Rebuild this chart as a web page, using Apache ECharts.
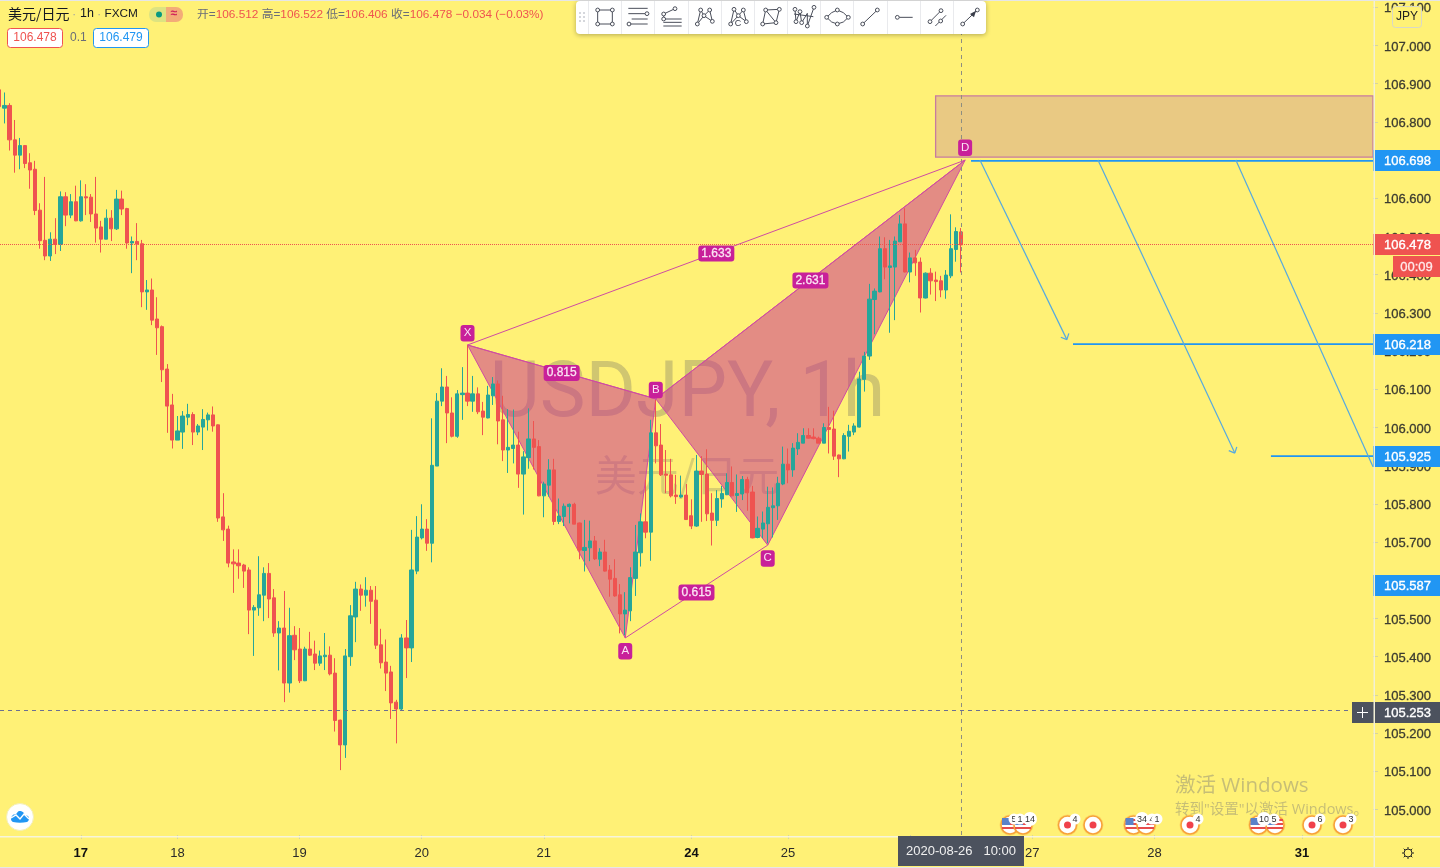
<!DOCTYPE html>
<html><head><meta charset="utf-8">
<style>html,body{margin:0;padding:0;background:#FFF176}#c{width:1440px;height:868px}</style>
<script src="https://cdn.jsdelivr.net/npm/echarts@6/dist/echarts.min.js"></script>
</head><body><div id="c"></div>
<script>
const opens=[106.884,106.836,106.843,106.753,106.713,106.738,106.693,106.676,106.569,106.490,106.449,106.493,106.479,106.604,106.556,106.591,106.541,106.604,106.603,106.559,106.525,106.493,106.548,106.520,106.598,106.573,106.483,106.487,106.481,106.355,106.360,106.284,106.264,106.153,106.059,105.967,105.988,106.027,106.034,105.988,106.001,106.020,106.033,
106.007,105.766,105.734,105.648,105.645,105.640,105.627,105.522,105.528,105.561,105.618,105.554,105.462,105.475,105.331,105.456,105.420,105.337,105.420,105.407,105.383,105.400,105.404,105.357,105.234,105.169,105.400,105.504,105.577,105.561,105.574,105.548,105.431,105.386,105.360,105.281,105.263,105.449,105.423,105.624,
105.711,105.734,105.697,105.899,106.069,106.106,106.038,105.977,106.086,106.090,106.069,106.088,106.043,106.025,106.083,106.114,106.020,105.941,105.945,105.954,105.878,105.921,105.970,105.950,105.821,105.849,105.889,105.754,105.767,105.793,105.799,105.750,105.678,105.685,105.703,105.655,105.674,105.627,105.605,105.562,105.512,105.520,105.605,105.672,105.753,105.726,
105.986,105.954,105.878,105.876,105.823,105.818,105.823,105.769,105.742,105.886,105.878,105.776,105.757,105.813,105.824,105.856,105.822,105.826,105.864,105.831,105.712,105.734,105.748,105.790,105.795,105.852,105.904,105.889,105.944,105.959,105.979,105.975,105.972,105.959,106.000,105.996,105.928,105.918,105.977,105.988,106.001,106.126,106.187,106.335,106.355,106.468,106.419,106.420,106.486,106.533,106.407,106.444,106.433,106.339,106.404,106.386,106.384,106.360,106.397,106.466,106.512];
const closes=[106.840,106.843,106.753,106.713,106.738,106.691,106.674,106.568,106.489,106.449,106.493,106.479,106.604,106.556,106.591,106.541,106.604,106.601,106.559,106.522,106.493,106.548,106.520,106.598,106.572,106.483,106.487,106.480,106.355,106.360,106.281,106.261,106.151,106.056,105.967,105.991,106.030,106.034,105.988,106.004,106.021,106.033,106.004,
105.763,105.732,105.645,105.643,105.638,105.624,105.522,105.529,105.562,105.618,105.551,105.462,105.475,105.331,105.455,105.418,105.337,105.420,105.404,105.383,105.402,105.404,105.355,105.233,105.169,105.402,105.507,105.577,105.561,105.574,105.545,105.430,105.384,105.357,105.279,105.263,105.449,105.423,105.627,105.713,
105.734,105.697,105.901,106.069,106.106,106.038,105.977,106.088,106.090,106.069,106.088,106.041,106.027,106.085,106.114,106.017,105.941,105.948,105.954,105.878,105.923,105.970,105.948,105.821,105.852,105.889,105.754,105.768,105.794,105.799,105.747,105.679,105.686,105.703,105.656,105.674,105.624,105.603,105.559,105.512,105.522,105.607,105.674,105.753,105.726,105.986,
105.952,105.876,105.875,105.821,105.819,105.823,105.759,105.742,105.886,105.877,105.774,105.757,105.814,105.827,105.856,105.821,105.827,105.864,105.829,105.711,105.736,105.750,105.791,105.795,105.854,105.904,105.889,105.946,105.961,105.979,105.972,105.971,105.959,106.000,105.995,105.925,105.918,105.979,105.990,106.004,106.127,106.187,106.336,106.357,106.468,106.420,106.423,106.488,106.533,106.407,106.444,106.431,106.339,106.404,106.384,106.382,106.360,106.399,106.468,106.513,106.478];
const lows=[106.838,106.796,106.725,106.667,106.676,106.679,106.625,106.556,106.468,106.438,106.436,106.454,106.462,106.527,106.548,106.540,106.539,106.556,106.538,106.484,106.458,106.493,106.488,106.517,106.556,106.468,106.404,106.438,106.315,106.308,106.268,106.190,106.119,105.986,105.945,105.967,105.944,106.006,105.954,105.980,105.941,105.992,105.989,
105.753,105.703,105.634,105.567,105.604,105.580,105.459,105.402,105.507,105.493,105.501,105.452,105.364,105.281,105.306,105.391,105.331,105.336,105.402,105.365,105.376,105.365,105.351,105.204,105.103,105.135,105.376,105.438,105.520,105.531,105.486,105.420,105.369,105.310,105.237,105.173,105.260,105.344,105.386,105.616,
105.707,105.677,105.647,105.899,106.056,105.959,105.974,105.973,106.020,106.056,106.041,106.035,105.980,106.024,106.059,105.956,105.912,105.881,105.906,105.842,105.772,105.892,105.890,105.820,105.765,105.819,105.745,105.747,105.742,105.749,105.747,105.655,105.623,105.650,105.653,105.637,105.623,105.557,105.557,105.461,105.456,105.493,105.559,105.636,105.710,105.651,
105.906,105.873,105.828,105.817,105.800,105.816,105.758,105.734,105.740,105.753,105.755,105.691,105.742,105.790,105.823,105.820,105.779,105.810,105.782,105.710,105.710,105.710,105.697,105.712,105.758,105.849,105.854,105.871,105.928,105.959,105.971,105.969,105.959,105.959,105.932,105.915,105.870,105.917,105.937,105.980,106.000,106.094,106.177,106.244,106.354,106.388,106.248,106.281,106.486,106.406,106.380,106.397,106.301,106.338,106.348,106.331,106.341,106.337,106.391,106.434,106.406];
const highs=[106.888,106.877,106.849,106.805,106.758,106.739,106.718,106.698,106.587,106.656,106.511,106.548,106.618,106.616,106.611,106.633,106.647,106.637,106.611,106.656,106.541,106.571,106.569,106.622,106.620,106.575,106.500,106.535,106.491,106.386,106.390,106.341,106.267,106.166,106.088,106.030,106.043,106.062,106.040,106.009,106.048,106.039,106.055,
106.008,105.828,105.743,105.681,105.681,105.643,105.634,105.535,105.663,105.634,105.645,105.577,105.493,105.572,105.528,105.480,105.475,105.426,105.465,105.442,105.416,105.462,105.427,105.396,105.235,105.420,105.535,105.596,105.589,105.608,105.585,105.585,105.473,105.445,105.376,105.287,105.459,105.496,105.732,105.768,
105.799,105.760,106.024,106.090,106.155,106.135,106.079,106.098,106.158,106.216,106.135,106.105,106.067,106.109,106.132,106.123,106.083,106.048,106.047,105.989,105.938,106.050,106.017,105.967,105.858,105.917,105.918,105.814,105.801,105.801,105.803,105.751,105.758,105.756,105.716,105.684,105.706,105.640,105.655,105.590,105.569,105.634,105.745,105.775,105.863,106.020,
106.072,106.009,105.941,105.918,105.876,105.874,105.852,105.812,105.928,105.925,105.943,105.828,105.836,105.847,105.880,105.898,105.877,105.873,105.871,105.847,105.767,105.780,105.845,105.843,105.871,105.950,105.945,105.959,105.985,105.998,105.998,105.998,105.976,106.011,106.054,106.044,105.929,105.985,106.007,106.011,106.146,106.198,106.376,106.364,106.500,106.498,106.491,106.500,106.556,106.574,106.458,106.465,106.445,106.406,106.417,106.408,106.397,106.412,106.558,106.524,106.522];

const xMin=0.118, xMax=269.96, yMin=104.9332, yMax=107.1191;
const priceTicks=[105.0,105.1,105.2,105.3,105.4,105.5,105.6,105.7,105.8,105.9,106.0,106.1,106.2,106.3,106.4,106.5,106.6,106.7,106.8,106.9,107.0,107.1];
const dayTickIdx=[16,35,59,83,107,136,155,179,203,227,256];
const dayTickLabels=['17','18','19','20','21','24','25','26','27','28','31'];
const boldDays=['17','24','31'];

const patternNames=['X','A','B','C','D'];
const patternIdx=[92,123,129,151,189.8];
const patternPrice=[106.216,105.449,106.075,105.692,106.700];
const patternOffsets=[-12,13,-9,13,-12.5];
const triangles=[[0,1,2],[2,3,4]];
const ratioLegs=[[0,2],[1,3],[2,4],[0,4]];
const ratioLabels=['0.815','0.615','2.631','1.633'];

const zoneIdx=184, zoneTop=106.868, zoneBottom=106.708;
const levelStartIdx=[190.96,211,249.9];
const levelPrice=[106.698,106.218,105.925];
const arrowStartIdx=[192.7,215.9,243];
const arrowEndIdx=[209.8,242.8,269.96];
const arrowStartPrice=[106.700,106.700,106.700];
const arrowEndPrice=[106.230,105.933,105.897];
const arrowHasHead=[true,true,false];

const tagPrices=[106.698,106.478,106.218,105.925,105.587,105.253];
const tagColors=['#2196F3','#EF5350','#2196F3','#2196F3','#2196F3','#4C525E'];
const lastPrice=106.478, crossPrice=105.256, crossIdx=189.1;

const BG='#FFF176',UP='#26A69A',DOWN='#EF5350',PINK='#C8209A',LINE='#CF4CA2',BLUE='#2196F3';
const candleData=opens.map((o,i)=>[i,o,closes[i],lows[i],highs[i]]);
const UI='"Liberation Sans",Arial,sans-serif', MIX='"Open Sans","Noto Sans CJK SC",sans-serif';

function seg(p,q,stroke,w){return {type:'line',shape:{x1:p[0],y1:p[1],x2:q[0],y2:q[1]},style:{stroke:stroke,lineWidth:w}};}

/* ---------- fixed page furniture (toolbar, header, events) ---------- */
const g=[];
function add(el,z){el.z=z==null?300:z;g.push(el);}
function txt(text,x,y,font,fill,align,z){add({type:'text',style:{text:text,x:x,y:y,font:font,fill:fill,textAlign:align||'left',textVerticalAlign:'middle'}},z);}
// watermarks
txt('USDJPY, 1h',687.5,397,'77px Roboto','rgba(80,80,95,0.27)','center',0);
txt('美元/日元',687,475,'42px "Noto Sans CJK SC"','rgba(80,80,95,0.22)','center',0);
// frame strips
add({type:'rect',shape:{x:0,y:0,width:1440,height:1},style:{fill:'#E6E6E6'}});
add({type:'rect',shape:{x:0,y:867,width:1440,height:1},style:{fill:'#E6E6E6'}});
add({type:'rect',shape:{x:0,y:836,width:1440,height:1.5},style:{fill:'#F7F5DC'}},295);
add({type:'rect',shape:{x:1373.5,y:0,width:1.5,height:868},style:{fill:'#F2F0D6'}},295);
// toolbar
add({type:'rect',shape:{x:576,y:1,width:410,height:33,r:4},style:{fill:'#fff',shadowBlur:5,shadowColor:'rgba(0,0,0,.3)',shadowOffsetY:1}});
[588.5,621.5,654.5,688.5,721.5,754.5,787.5,820.5,853.5,887.5,920.5,953.5].forEach(x=>add({type:'line',shape:{x1:x,y1:1,x2:x,y2:34},style:{stroke:'#E9EAED',lineWidth:1}}));
[[580,13],[584,13],[580,17],[584,17],[580,21],[584,21]].forEach(p=>add({type:'rect',shape:{x:p[0]-1,y:p[1]-1,width:2,height:2},style:{fill:'#D5D7DC'}}));
const Z=(a)=>a.map(p=>[570+p[0]/3,p[1]/3]);
const icons=[
 {l:[[[83,30],[127,30],[127,72],[83,72],[83,30]]],r:[[83,30],[127,30],[127,72],[83,72]]},
 {l:[[[175,25],[233,25]],[[175,41],[225,41]],[[185,57],[233,57]],[[180,72],[233,72]]],r:[[231,41],[177,72]]},
 {l:[[[281,57],[281,42],[315,26]],[[280,57],[335,57]],[[280,67],[335,67]],[[280,78],[335,78]]],r:[[281,42],[315,26],[281,57]]},
 {l:[[[382,72],[392,30],[402,47],[419,30],[427,64],[402,47],[382,72]]],r:[[382,72],[392,30],[402,47],[419,30],[427,64]]},
 {l:[[[482,72],[492,28],[505,47],[520,30],[529,65],[505,47],[482,72]]],r:[[482,72],[492,28],[505,47],[520,30],[529,65]]},
 {l:[[[578,72],[587,30],[628,28],[618,68],[578,72]],[[587,30],[618,68]]],r:[[578,72],[587,30],[628,28],[618,68]]},
 {l:[[[675,28],[678,65],[690,35],[695,68],[712,40],[712,78],[732,22]],[[672,42],[730,50]]],r:[[675,28],[678,65],[690,35],[695,68],[712,78],[732,22]]},
 {l:[[[770,52],[785,38],[802,30],[820,38],[835,52],[820,66],[802,72],[785,66],[770,52]]],r:[[770,52],[802,30],[835,52],[802,72]]},
 {l:[[[878,72],[922,30]]],r:[[878,72],[922,30]]},
 {l:[[[982,52],[1028,52]]],r:[[982,52]]},
 {l:[[[1080,65],[1113,32]],[[1096,78],[1128,46]]],r:[[1080,65],[1113,32],[1112,63]]},
 {l:[[[1178,72],[1222,30]]],r:[[1178,72],[1222,30]]}
];
icons.forEach(ic=>{
  ic.l.forEach(pl=>add({type:'polyline',shape:{points:Z(pl)},style:{stroke:'#4A4E5A',lineWidth:1,fill:null}}));
  Z(ic.r).forEach(p=>add({type:'circle',shape:{cx:p[0],cy:p[1],r:1.9},style:{fill:'#fff',stroke:'#4A4E5A',lineWidth:1}},301));
});
add({type:'polygon',shape:{points:Z([[1200,42],[1218,32],[1212,52]])},style:{fill:'#3A3E4A'}},301);
txt('C',570+504/3,71/3,'9px '+UI,'#3A3E4A','center',301);
// header
txt('美元/日元',8,14,'14px "Noto Sans CJK SC"','#131722');
txt('·',72,14,'13px '+UI,'#A9AAA0');
txt('1h',80,14,'12.5px '+UI,'#131722');
txt('·',97,14,'13px '+UI,'#A9AAA0');
txt('FXCM',104.5,14,'11.8px '+UI,'#131722');
add({type:'rect',shape:{x:149,y:7,width:17,height:15,r:[7,0,0,7]},style:{fill:'#DDE381'}});
add({type:'rect',shape:{x:166,y:7,width:17,height:15,r:[0,7,7,0]},style:{fill:'#F3AC78'}});
add({type:'circle',shape:{cx:159,cy:14.5,r:3},style:{fill:'#089981'}});
txt('≈',174,14,'bold 12px '+UI,'#D0205A','center');
const ohlcFont='"Liberation Sans","Noto Sans CJK SC"';
add({type:'text',style:{x:197,y:15,textVerticalAlign:'middle',text:'{a|开=}{b|106.512} {a|高=}{b|106.522} {a|低=}{b|106.406} {a|收=}{b|106.478} {b|−0.034 (−0.03%)}',fill:DOWN,rich:{a:{fontSize:11.8,fontFamily:ohlcFont,lineHeight:16,fill:'#6A6D78'},b:{fontSize:11.8,fontFamily:ohlcFont,lineHeight:16,fill:DOWN}}}},300);
add({type:'rect',shape:{x:7.5,y:28.5,width:55,height:19,r:3},style:{fill:'#fff',stroke:DOWN,lineWidth:1}});
txt('106.478',35,38,'12px '+UI,DOWN,'center',301);
txt('0.1',70,38,'12px '+UI,'#6A6D78');
add({type:'rect',shape:{x:93.5,y:28.5,width:55,height:19,r:3},style:{fill:'#fff',stroke:BLUE,lineWidth:1}});
txt('106.479',121,38,'12px '+UI,BLUE,'center',301);
// JPY badge
add({type:'rect',shape:{x:1392.5,y:6.5,width:29,height:21,r:3},style:{fill:BG,stroke:'#D8D8C8',lineWidth:1}});
txt('JPY',1407,17,'12px '+UI,'#222','center',301);
// logo + gear
add({type:'circle',shape:{cx:20,cy:817,r:13.5},style:{fill:'#fff',stroke:'#F4EFB8',lineWidth:1}});
add({type:'polygon',shape:{smooth:0.35,points:[[11,819],[13,815],[16,814],[19,811],[23,812],[25,815],[28,816],[29,819],[27,822],[13,822]]},style:{fill:'#2196F3'}},301);
add({type:'polyline',shape:{points:[[11,818],[16,815],[20,819],[24,814],[29,819]]},style:{stroke:'#fff',lineWidth:1.4,fill:null}},302);
add({type:'circle',shape:{cx:1408,cy:853,r:4},style:{fill:null,stroke:'#222',lineWidth:1}});
[[0,-6],[0,6],[-6,0],[6,0],[-4.3,-4.3],[4.3,4.3],[-4.3,4.3],[4.3,-4.3]].forEach(d=>add({type:'line',shape:{x1:1408+d[0]*.7,y1:853+d[1]*.7,x2:1408+d[0],y2:853+d[1]},style:{stroke:'#222',lineWidth:1}}));
// Windows text
txt('激活 Windows',1175,786,'20.5px '+MIX,'rgba(120,120,120,.42)','left',250);
txt('转到"设置"以激活 Windows。',1175,810,'14.5px '+MIX,'rgba(120,120,120,.42)','left',250);
// event icons
const evX=[1010,1023,1067.5,1093,1133.5,1146,1190,1258.6,1275,1312,1343];
const evFlag=[1,1,0,0,1,1,0,1,1,0,0];
evX.forEach((x,i)=>{
  const y=825;
  add({type:'circle',shape:{cx:x,cy:y,r:10.5},style:{fill:'rgba(247,162,59,.28)'}},240+i);
  add({type:'circle',shape:{cx:x,cy:y,r:9},style:{fill:'#fff',stroke:'#F7A23B',lineWidth:1.6}},240+i);
  if(evFlag[i]){
    add({type:'rect',shape:{x:x-8,y:y-6,width:16,height:2},style:{fill:'#E74C4C'}},240+i);
    add({type:'rect',shape:{x:x-8,y:y-2,width:16,height:2},style:{fill:'#E74C4C'}},240+i);
    add({type:'rect',shape:{x:x-8,y:y+2,width:16,height:2},style:{fill:'#E74C4C'}},240+i);
    add({type:'rect',shape:{x:x-8,y:y-7,width:8,height:7},style:{fill:'#5B82C9'}},240+i);
  } else add({type:'circle',shape:{cx:x,cy:y,r:3.5},style:{fill:'#F0414B'}},240+i);
});
const badgeX=[1014,1020,1030,1075,1142,1152,1157,1198,1264,1274,1320,1351];
const badgeT=['5','1','14','4','34','4','1','4','10','5','6','3'];
badgeX.forEach((x,i)=>{
  add({type:'circle',shape:{cx:x,cy:819,r:badgeT[i].length>1?7:5.5},style:{fill:'#fff'}},260+i);
  txt(badgeT[i],x,819.5,'9px '+UI,'#333','center',260+i);
});
// crosshair date tag and plus
add({type:'rect',shape:{x:898,y:836,width:126,height:30},style:{fill:'#4C525E'}},296);
txt('2020-08-26   10:00',961,851.5,'13px '+UI,'#F0F0F0','center',297);
add({type:'rect',shape:{x:1352,y:702,width:21.5,height:21},style:{fill:'#4C525E'}},290);
add({type:'rect',shape:{x:1357,y:712,width:11,height:1},style:{fill:'#fff'}},291);
add({type:'rect',shape:{x:1362,y:707,width:1,height:11},style:{fill:'#fff'}},291);
// countdown tag
add({type:'rect',shape:{x:1393,y:256,width:47,height:21},style:{fill:DOWN}},290);
add({type:'text',style:{text:'00:09',x:1416.5,y:267,font:'13px '+UI,fill:'#FFE9E9',stroke:'#FFE9E9',lineWidth:0.3,textAlign:'center',textVerticalAlign:'middle'}},291);

const option={
 animation:false,
 backgroundColor:BG,
 graphic:{elements:g},
 grid:{left:0,top:0,width:1373,height:835,containLabel:false},
 xAxis:{type:'value',min:xMin,max:xMax,splitLine:{show:false},
  axisLine:{show:false,onZero:false},
  axisTick:{customValues:dayTickIdx,length:4,lineStyle:{color:'#D8D49A'}},
  axisLabel:{customValues:dayTickIdx,margin:12,hideOverlap:false,color:'#2A2A2A',fontSize:13,fontFamily:'Liberation Sans',
   formatter:v=>{const s=dayTickLabels[dayTickIdx.indexOf(v)];return boldDays.includes(s)?'{b|'+s+'}':s;},
   rich:{b:{fontWeight:'bold',fontSize:13,color:'#111',fontFamily:'Liberation Sans'}}}},
 yAxis:{type:'value',position:'right',min:yMin,max:yMax,splitLine:{show:false},
  axisLine:{show:false,onZero:false},
  axisTick:{show:true,customValues:priceTicks,length:5,lineStyle:{color:'#D8D49A'}},
  axisLabel:{customValues:priceTicks,margin:11,verticalAlign:'bottom',lineHeight:13,padding:[0,0,-8,0],hideOverlap:false,color:'#3C3C30',textBorderColor:'#3C3C30',textBorderWidth:0.3,fontSize:13,fontFamily:'Liberation Sans',formatter:v=>v.toFixed(3)}},
 series:[
  {type:'custom',z:1,silent:true,coordinateSystem:'cartesian2d',clip:false,
   data:triangles.map((t,i)=>[patternIdx[t[0]],patternPrice[t[0]]]),
   renderItem:(p,api)=>{const t=triangles[p.dataIndex];const pts=t.map(k=>api.coord([patternIdx[k],patternPrice[k]]));
     return {type:'polygon',shape:{points:pts},style:{fill:'rgba(200,40,145,0.5)',stroke:LINE,lineWidth:1}};}},
  {type:'custom',z:1,silent:true,clip:false,
   data:[[zoneIdx,zoneTop]],
   renderItem:(p,api)=>{const a=api.coord([zoneIdx,zoneTop]),b=api.coord([xMax,zoneBottom]);
     return {type:'rect',shape:{x:a[0],y:a[1],width:b[0]-a[0],height:b[1]-a[1]},style:{fill:'#E9C983',stroke:'#C77BA0',lineWidth:1.3}};}},
  {type:'candlestick',z:2,silent:true,data:candleData,encode:{x:0,y:[1,2,3,4]},barWidth:3.7,
   itemStyle:{color:UP,color0:DOWN,borderColor:UP,borderColor0:DOWN,borderWidth:1},
   markLine:{silent:true,symbol:'none',animation:false,label:{show:false},z:3,
    data:[
     {yAxis:lastPrice,lineStyle:{color:DOWN,type:[1,1],width:1}},
     {yAxis:crossPrice,lineStyle:{color:'#6B6F92',type:[4,4],width:1}},
     {xAxis:crossIdx,lineStyle:{color:'#8E8E80',type:[4,4],width:1}}
    ]}},
  {type:'custom',z:4,silent:true,clip:true,
   data:levelPrice.map((v,i)=>[levelStartIdx[i],v]),
   renderItem:(p,api)=>{const i=p.dataIndex;const a=api.coord([levelStartIdx[i],levelPrice[i]]),b=api.coord([xMax,levelPrice[i]]);
     return seg(a,b,BLUE,1.8);}},
  {type:'custom',z:4,silent:true,clip:true,
   data:arrowStartIdx.map((v,i)=>[v,arrowStartPrice[i]]),
   renderItem:(p,api)=>{const i=p.dataIndex;const a=api.coord([arrowStartIdx[i],arrowStartPrice[i]]),b=api.coord([arrowEndIdx[i],arrowEndPrice[i]]);
     const kids=[seg(a,b,'#55A9E0',1.2)];
     if(arrowHasHead[i]){const ang=Math.atan2(b[1]-a[1],b[0]-a[0]);
       [-0.75,0.75].forEach(d=>kids.push(seg(b,[b[0]-6.5*Math.cos(ang+d),b[1]-6.5*Math.sin(ang+d)],'#55A9E0',1.2)));}
     return {type:'group',children:kids};}},
  {type:'custom',z:5,silent:true,clip:false,
   data:ratioLegs.map(l=>[patternIdx[l[0]],patternPrice[l[0]]]),
   renderItem:(p,api)=>{const l=ratioLegs[p.dataIndex];const a=api.coord([patternIdx[l[0]],patternPrice[l[0]]]),b=api.coord([patternIdx[l[1]],patternPrice[l[1]]]);
     const m=[(a[0]+b[0])/2,(a[1]+b[1])/2];
     return {type:'group',children:[
       seg(a,b,LINE,1),
       {type:'rect',z2:2,shape:{x:m[0]-18,y:m[1]-7,width:36,height:16,r:3},style:{fill:PINK}},
       {type:'text',z2:3,style:{x:m[0],y:m[1]+1,text:ratioLabels[p.dataIndex],fill:'#FBE3F3',stroke:'#FBE3F3',lineWidth:0.3,font:'12px '+UI,align:'center',verticalAlign:'middle',textAlign:'center',textVerticalAlign:'middle'}}
     ]};}},
  {type:'custom',z:6,silent:true,clip:false,
   data:patternNames.map((n,i)=>[patternIdx[i],patternPrice[i]]),
   renderItem:(p,api)=>{const i=p.dataIndex;const c=api.coord([patternIdx[i],patternPrice[i]]);const y=c[1]+patternOffsets[i];
     return {type:'group',children:[
       {type:'rect',z2:2,shape:{x:c[0]-7,y:y-8,width:14,height:16.5,r:3},style:{fill:PINK}},
       {type:'text',z2:3,style:{x:c[0],y:y,text:patternNames[i],fill:'#FBE3F3',font:'11.5px '+UI,align:'center',verticalAlign:'middle',textAlign:'center',textVerticalAlign:'middle'}}
     ]};}},
  {type:'custom',z:100,silent:true,clip:false,
   data:tagPrices.map(v=>[xMax,v]),
   renderItem:(p,api)=>{const i=p.dataIndex;const c=api.coord([xMax,tagPrices[i]]);const yy=Math.floor(c[1]);
     return {type:'group',children:[
       {type:'rect',z2:2,shape:{x:c[0],y:yy-10,width:67,height:21},style:{fill:tagColors[i]}},
       {type:'text',z2:3,style:{x:c[0]+11,y:yy+1,text:tagPrices[i].toFixed(3),fill:'#fff',stroke:'#fff',lineWidth:0.35,font:'13px '+UI,align:'left',verticalAlign:'middle',textAlign:'left',textVerticalAlign:'middle'}}
     ]};}}
 ]
};
const chart=echarts.init(document.getElementById('c'),null,{renderer:'canvas'});
chart.setOption(option);
</script></body></html>
